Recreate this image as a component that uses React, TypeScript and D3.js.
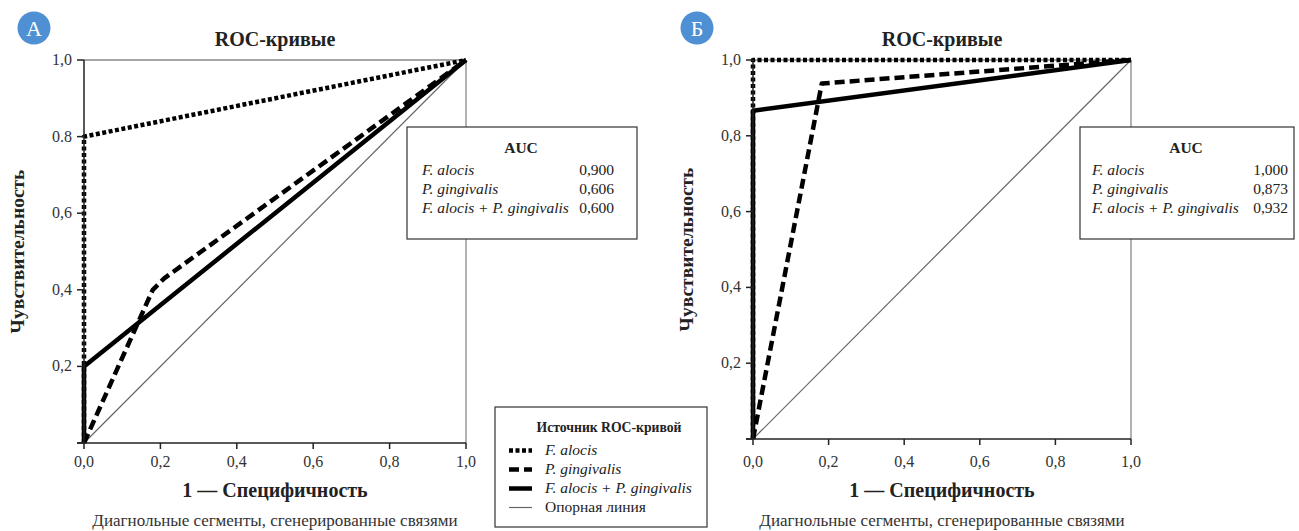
import React from "react";
import * as d3 from "d3";

type Pt = [number, number];

const ticks = [0, 0.2, 0.4, 0.6, 0.8, 1.0];
const xTickLabels = ["0,0", "0,2", "0,4", "0,6", "0,8", "1,0"];
const yTickLabelsA = ["", "0,2", "0,4", "0,6", "0.8", "1,0"];
const yTickLabelsB = ["", "0,2", "0,4", "0,6", "0,8", "1,0"];

const seriesNames = ["F. alocis", "P. gingivalis", "F. alocis + P. gingivalis"];
const aucA = ["0,900", "0,606", "0,600"];
const aucB = ["1,000", "0,873", "0,932"];

const fAlocisA: Pt[] = [[0, 0], [0, 0.8], [1, 1]];
const pGingA: Pt[] = [[0, 0], [0.18, 0.4], [0.21, 0.43], [1, 1]];
const comboA: Pt[] = [[0, 0], [0, 0.2], [1, 1]];
const fAlocisB: Pt[] = [[0, 0], [0, 1], [1, 1]];
const pGingB: Pt[] = [[0, 0], [0.182, 0.938], [1, 1]];
const comboB: Pt[] = [[0, 0], [0, 0.866], [1, 1]];
const reference: Pt[] = [[0, 0], [1, 1]];

const FONT = "'Liberation Serif', 'Times New Roman', serif";

const styles = {
  dotted: { stroke: "#000", width: 4.5, dash: "4 2.5" },
  dashed: { stroke: "#000", width: 4.5, dash: "10 5" },
  solid: { stroke: "#000", width: 4.5, dash: "" },
  ref: { stroke: "#666", width: 1.2, dash: "" },
};

interface PanelProps {
  letter: string;
  circleX: number;
  x0: number;
  x1: number;
  yTop: number;
  yBot: number;
  yLabels: string[];
  f: Pt[];
  p: Pt[];
  c: Pt[];
  auc: string[];
  box: { x: number; y: number; w: number; h: number; textX: number; valX: number };
}

function Panel(props: PanelProps) {
  const { letter, circleX, x0, x1, yTop, yBot, yLabels, f, p, c, auc, box } = props;
  const x = d3.scaleLinear().domain([0, 1]).range([x0, x1]);
  const y = d3.scaleLinear().domain([0, 1]).range([yBot, yTop]);
  const line = d3.line<Pt>().x((d) => x(d[0])).y((d) => y(d[1]));
  const mid = (x0 + x1) / 2;
  return (
    <g fontFamily={FONT}>
      <circle cx={circleX} cy={28} r={16.5} fill="#4f8fd3" />
      <text x={circleX} y={36} textAnchor="middle" fontSize={22} fill="#fff">{letter}</text>
      <text x={mid} y={46} textAnchor="middle" fontSize={20} fontWeight="bold" fill="#222">ROC-кривые</text>
      {/* frame */}
      <line x1={x0} y1={yTop} x2={x1} y2={yTop} stroke="#888" strokeWidth={1.3} />
      <line x1={x1} y1={yTop} x2={x1} y2={yBot} stroke="#888" strokeWidth={1.3} />
      {/* reference */}
      <path d={line(reference) || ""} fill="none" stroke={styles.ref.stroke} strokeWidth={styles.ref.width} />
      <path d={line(c) || ""} fill="none" stroke="#000" strokeWidth={styles.solid.width} strokeLinejoin="round" />
      <path d={line(p) || ""} fill="none" stroke="#000" strokeWidth={styles.dashed.width} strokeDasharray={styles.dashed.dash} strokeLinejoin="round" />
      <path d={line(f) || ""} fill="none" stroke="#000" strokeWidth={styles.dotted.width} strokeDasharray={styles.dotted.dash} strokeLinejoin="round" />
      {/* axes */}
      <line x1={x0} y1={yTop} x2={x0} y2={yBot} stroke="#222" strokeWidth={1.5} />
      <line x1={x0 - 7} y1={yBot} x2={x1} y2={yBot} stroke="#222" strokeWidth={1.5} />
      {ticks.map((t, i) => (
        <g key={"y" + i}>
          <line x1={x0 - 7} x2={x0} y1={y(t)} y2={y(t)} stroke="#222" strokeWidth={1.5} />
          {yLabels[i] && (
            <text x={x0 - 12} y={y(t) + 5} textAnchor="end" fontSize={16} fill="#333">{yLabels[i]}</text>
          )}
        </g>
      ))}
      {ticks.map((t, i) => (
        <g key={"x" + i}>
          <line x1={x(t)} x2={x(t)} y1={yBot} y2={yBot + 6} stroke="#222" strokeWidth={1.5} />
          <text x={x(t)} y={467} textAnchor="middle" fontSize={16} fill="#333">{xTickLabels[i]}</text>
        </g>
      ))}
      <text x={mid} y={497} textAnchor="middle" fontSize={20} fontWeight="bold" fill="#222">1 — Специфичность</text>
      <text x={mid} y={526} textAnchor="middle" fontSize={17} fill="#333">Диагнольные сегменты, сгенерированные связями</text>
      <text transform={`translate(${x0 - 60},${(yTop + yBot) / 2}) rotate(-90)`} textAnchor="middle" fontSize={19.5} fontWeight="bold" fill="#222">Чувствительность</text>
      {/* AUC box */}
      <rect x={box.x} y={box.y} width={box.w} height={box.h} fill="#fff" stroke="#333" strokeWidth={1.2} />
      <text x={box.x + box.w / 2 - 1} y={box.y + 26} textAnchor="middle" fontSize={15.5} fontWeight="bold" fill="#222">AUC</text>
      {seriesNames.map((n, i) => (
        <g key={n}>
          <text x={box.textX} y={box.y + 48 + i * 19} fontSize={15.5} fontStyle="italic" fill="#222">{n}</text>
          <text x={box.valX} y={box.y + 48 + i * 19} fontSize={15.5} textAnchor="end" fill="#222">{auc[i]}</text>
        </g>
      ))}
    </g>
  );
}

function Legend() {
  const lx = 495, ly = 407, lw = 212, lh = 120;
  const items = [
    { label: seriesNames[0], s: styles.dotted, italic: true },
    { label: seriesNames[1], s: styles.dashed, italic: true },
    { label: seriesNames[2], s: styles.solid, italic: true },
    { label: "Опорная линия", s: styles.ref, italic: false },
  ];
  return (
    <g fontFamily={FONT}>
      <rect x={lx} y={ly} width={lw} height={lh} fill="#fff" stroke="#333" strokeWidth={1.2} />
      <text x={609} y={432} textAnchor="middle" fontSize={13.7} fontWeight="bold" fill="#222">Источник ROC-кривой</text>
      {items.map((it, i) => {
        const yy = 455 + i * 19;
        return (
          <g key={it.label}>
            <line x1={509} x2={532} y1={yy - 4.5} y2={yy - 4.5} stroke={it.s.stroke} strokeWidth={it.s.width} strokeDasharray={it.s.dash || undefined} />
            <text x={545} y={yy} fontSize={15.5} fontStyle={it.italic ? "italic" : "normal"} fill="#222">{it.label}</text>
          </g>
        );
      })}
    </g>
  );
}

export default function App() {
  return (
    <svg width={1299} height={531} style={{ position: "absolute", left: 0, top: 0, background: "#fff" }}>
      <rect width={1299} height={531} fill="#fff" />
      <Panel letter="А" circleX={34} x0={84} x1={466} yTop={60} yBot={443} yLabels={yTickLabelsA}
        f={fAlocisA} p={pGingA} c={comboA} auc={aucA}
        box={{ x: 407, y: 127, w: 230, h: 112, textX: 422, valX: 614 }} />
      <Panel letter="Б" circleX={697} x0={753} x1={1131} yTop={60} yBot={439} yLabels={yTickLabelsB}
        f={fAlocisB} p={pGingB} c={comboB} auc={aucB}
        box={{ x: 1080, y: 127, w: 214, h: 112, textX: 1092, valX: 1288 }} />
      <Legend />
    </svg>
  );
}
